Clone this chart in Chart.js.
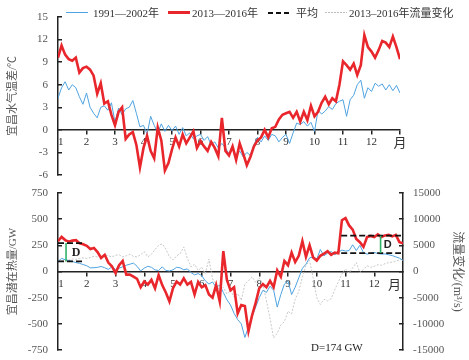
<!DOCTYPE html>
<html>
<head>
<meta charset="utf-8">
<script src="https://cdn.jsdelivr.net/npm/chart.js@4.4.1/dist/chart.umd.min.js"></script>
<style>
html, body { margin: 0; padding: 0; background: #fff; }
#wrap { position: relative; width: 469px; height: 360px; overflow: hidden;
        font-family: "Liberation Serif", "Noto Sans CJK SC", serif; }
#topChart { position: absolute; left: 0; top: 0; }
#bottomChart { position: absolute; left: 0; top: 185px; }
.lg { position: absolute; top: 6px; font-size: 11px; line-height: 14px; color: #333; white-space: nowrap; }
.sw { position: absolute; width: 22px; }
</style>
</head>
<body>
<div id="wrap">
  <canvas id="topChart" width="469" height="185"></canvas>
  <canvas id="bottomChart" width="469" height="175"></canvas>
  <!-- legend -->
  <div class="sw" style="left:66px;top:12px;height:1px;background:#4fa3e0"></div>
  <div class="lg" style="left:93px">1991—2002年</div>
  <div class="sw" style="left:168px;top:11px;height:3px;background:#e8262b"></div>
  <div class="lg" style="left:192px">2013—2016年</div>
  <div class="sw" style="left:268px;top:12px;height:2px;background:repeating-linear-gradient(to right,#111 0 5px,transparent 5px 8px)"></div>
  <div class="lg" style="left:296px">平均</div>
  <div class="sw" style="left:325px;top:12px;height:1px;background:repeating-linear-gradient(to right,#bbb 0 2px,transparent 2px 3px)"></div>
  <div class="lg" style="left:349px">2013–2016年流量变化</div>
</div>
<script>
// values sampled every 1/8 month, starting at month 1
const STEP = 0.125;
const monthTicks = [1, 2, 3, 4, 5, 6, 7, 8, 9, 10, 11, 12];
const FIRST_LABEL_SHIFT = 0.1; // keeps "1" clear of the y axis line

// top: water-air temperature difference (℃)
const tempOld = [4.2, 5.6, 6.4, 5.3, 6.0, 5.6, 4.4, 3.4, 4.9,
  3.0, 2.2, 1.6, 3.0, 3.2, 2.6, 3.6, 1.0,
  2.9, 2.0, 2.8, 3.0, 3.9, 2.2, 0.4, 0.6,
  -0.6, 1.8, 0.6, -0.4, 0.8, -0.2, 0.6, -0.1,
  0.5, -0.6, 0.3, -0.8, -0.4, -1.2, -0.8, -0.6,
  -1.4, -0.9, -2.0, -1.6, -2.4, -1.8, -2.4, -3.2,
  -2.2, -3.6, -2.8, -3.6, -3.0, -3.4, -2.0, -1.0,
  -1.6, -0.8, -1.4, -0.6, -0.8, -1.6, -1.0, -0.6,
  -1.8, -0.4, 0.9, 0.7, 1.1, 0.5, 1.0, -0.2,
  2.6, 2.1, 2.5, 3.1, 2.7, 3.5, 3.8, 4.0,
  1.8, 4.0, 4.6, 6.0, 6.6, 4.2, 5.6, 5.1,
  6.2, 5.8, 6.1, 5.3, 6.0, 5.2, 5.9, 4.9];
const tempNew = [9.6, 11.2, 10.0, 9.4, 9.2, 9.6, 7.6, 8.2, 8.4,
  8.0, 7.2, 4.8, 6.2, 3.5, 3.8, 2.0, 0.6,
  2.4, 3.0, -1.2, -0.6, -0.3, -2.0, -5.0, -2.4,
  -0.8, -2.8, -3.8, 0.3, -1.4, -5.4, -4.4, -2.6,
  -1.0, -2.2, -0.6, -1.8, -1.0, -0.2, -2.4, -1.5,
  -2.2, -2.8, -1.6, -2.4, -3.5, 1.6, -2.8, -3.4,
  -2.2, -4.0, -1.8, -3.2, -4.7, -3.6, -2.2, -1.4,
  -1.0, 0.0, -1.0, 0.2, 0.4, 1.4, 2.0, 2.2,
  2.4, 1.6, 2.4, 1.1, 2.4, 1.3, 3.2, 1.8,
  2.4, 3.6, 4.4, 3.4, 4.2, 3.8, 6.0, 9.1,
  8.6, 8.0, 8.8, 7.3, 8.6, 12.6, 11.0, 10.4,
  9.6, 10.6, 11.8, 11.6, 11.0, 12.4, 11.0, 9.4];

// bottom: potential heat (GW)
const heatOld = [96, 125, 112, 105, 96, 85, 78, 66, 55,
  35, 36, 40, 48, 36, 20, 45, 20,
  32, 45, 60, 70, 80, 50, 5, 32,
  50, 40, 15, 10, 45, 10, 5, 16,
  40, 35, 16, 25, -10, -32, -20, -40,
  -90, -120, -100, -150, -130, -200, -270, -320,
  -400, -460, -500, -630, -530, -430, -340, -250,
  -180, -200, -140, -180, -340, -220, -120, -90,
  -220, -150, -60, 30, 70, 130, 140, 118,
  210, 150, 175, 190, 160, 185, 205, 195,
  200, 255, 200, 250, 180, 166, 175, 182,
  172, 166, 168, 160, 152, 140, 128, 105];
const heatNew = [290, 330, 300, 285, 295, 300, 270, 260, 245,
  215, 225, 185, 130, 160, 85, 50, -15,
  60, 100, -30, -30, -50, -70, -150, -95,
  -125, -80, -160, -35, -130, -200, -285, -160,
  -95, -125, -65, -125, -100, -220, -100, -150,
  -130, -220, -250, -130, -285, 195, -80, -180,
  -150, -400, -320, -330, -570, -420, -300, -160,
  -120, -150, -90, -150, 10, -50, 100, 60,
  180, 90, 150, 290, 140, 250, 134, 105,
  150, 170, 195, 160, 180, 175, 490, 510,
  440, 400, 310, 280, 235, 330, 340, 330,
  355, 330, 345, 350, 335, 350, 280, 270];

// bottom, right axis: flow change 2013-2016 (m³/s)
const flowNew = [2000, 2100, 2000, 2200, 2400, 2300, 2500, 2600, 2500,
  2700, 2900, 2800, 3000, 3200, 3000, 2800, 3100,
  3200, 2800, 3000, 3300, 2900, 2800, 3200, 3800,
  2800, 3300, 4200, 5000, 5300, 4300, 2800, 2200,
  3000, 3400, 4700, 2500, 900, 1400, 200, 800,
  -400, 2400, -1400, -2400, -3600, -3000, -4300, -3600,
  -4900, -4200, -5500, -2400, -1800, -1000, -2100, -1200,
  -2400, -5600, -9000, -12700, -11800, -10200, -9600, -7600,
  -8100, -5300, -3800, -1000, 1200, 2100, -1200, -5000,
  -6300, -5300, -5600, -5200, -3500, -2000, -500, 500,
  -300, 700, 1700, -200, 400, 1100, 800, 1000,
  1300, 1200, 1500, 1700, 1800, 2000, 2200, 2400];

// averages (GW) for January and December, and the D markers
const avgSpans = [[1, 1.9], [10.85, 12.93]];
const avgOld = [96, 176];
const avgNew = [272, 342];
const dMonths = [1.28, 12.22];
const dLabels = [[1.63, 176], [12.47, 252]];
const noteText = 'D=174 GW';
const noteAt = [10.7, -730];

const SERIF = '"Liberation Serif", "Noto Sans CJK SC", serif';
const pts = arr => arr.map((v, i) => ({ x: 1 + i * STEP, y: v }));
const seg = (span, v) => [{ x: span[0], y: v }, { x: span[1], y: v }];

function xAxis(max, endLabel) {
  const tickVals = [monthTicks[0] + FIRST_LABEL_SHIFT].concat(monthTicks.slice(1), [endLabel]);
  return {
    type: 'linear', min: 1, max: max,
    position: { y: 0 },
    afterBuildTicks: s => { s.ticks = tickVals.map(v => ({ value: v })); },
    ticks: {
      padding: 2, color: '#333', maxRotation: 0, autoSkip: false,
      font: c => ({ family: SERIF, size: c.tick && c.tick.value === endLabel ? 13 : 11 }),
      callback: v => v === endLabel ? '月' : Math.floor(v)
    },
    grid: {
      drawOnChartArea: false, tickLength: 4, lineWidth: 1.5,
      tickColor: c => (c.tick && Number.isInteger(c.tick.value)) ? '#222' : 'rgba(0,0,0,0)'
    },
    border: { color: '#222', width: 1.5 }
  };
}

function yAxis(pos, min, max, step, title, width, titlePad, titleSize) {
  return {
    type: 'linear', position: pos, min: min, max: max,
    afterFit: s => { s.width = width; s.paddingTop = 0; s.paddingBottom = 0; },
    ticks: { stepSize: step, padding: 14, color: '#555', font: { family: SERIF, size: 11 },
             callback: v => String(v) },
    grid: { drawOnChartArea: false, tickLength: -4, color: '#222', lineWidth: 1.5 },
    border: { color: '#222', width: 1.5 },
    title: { display: true, text: title, color: '#555', padding: { top: titlePad, bottom: 0 },
             font: { family: SERIF, size: titleSize } }
  };
}

const noPlugins = { legend: { display: false }, tooltip: { enabled: false } };

new Chart(document.getElementById('topChart'), {
  type: 'line',
  data: {
    datasets: [
      { data: pts(tempNew), borderColor: '#e8262b', borderWidth: 2.6, order: 1 },
      { data: pts(tempOld), borderColor: '#4fa3e0', borderWidth: 1, order: 2 }
    ]
  },
  options: {
    responsive: false, animation: false,
    parsing: false,
    elements: { point: { radius: 0 }, line: { tension: 0 } },
    layout: { padding: { top: 17, bottom: 10, left: 0, right: 69 } },
    plugins: noPlugins,
    scales: {
      x: xAxis(13, 13),
      y: yAxis('left', -6, 15, 3, '宜昌水气温差/℃', 58, 7, 11)
    }
  }
});

const notes = {
  id: 'notes',
  afterDatasetsDraw(chart) {
    const { ctx, scales: { x, y } } = chart;
    ctx.save();
    ctx.fillStyle = '#222';
    ctx.textAlign = 'center';
    ctx.textBaseline = 'middle';
    dLabels.forEach(([m, v], i) => {
      ctx.font = i === 0 ? 'bold 12px "Liberation Serif"' : 'bold 11px "Liberation Sans"';
      ctx.fillText('D', x.getPixelForValue(m), y.getPixelForValue(v));
    });
    ctx.font = '11px "Liberation Serif"';
    ctx.fillText(noteText, x.getPixelForValue(noteAt[0]), y.getPixelForValue(noteAt[1]));
    ctx.restore();
  }
};

const avgSets = [];
avgSpans.forEach((span, i) => {
  [avgOld[i], avgNew[i]].forEach(v => avgSets.push({
    data: seg(span, v), borderColor: '#111', borderWidth: 1.8, borderDash: [6, 3], order: 1
  }));
  avgSets.push({
    data: [{ x: dMonths[i], y: avgOld[i] }, { x: dMonths[i], y: avgNew[i] }],
    borderColor: '#2fb36a', borderWidth: 1.6, order: 0
  });
});

new Chart(document.getElementById('bottomChart'), {
  type: 'line',
  data: {
    datasets: [
      { data: pts(heatNew), borderColor: '#e8262b', borderWidth: 2.6, order: 3 },
      { data: pts(heatOld), borderColor: '#4fa3e0', borderWidth: 1, order: 4 },
      { data: pts(flowNew), yAxisID: 'y2', borderColor: '#c8c8c8', borderWidth: 1, borderDash: [2, 1.5], order: 5 }
    ].concat(avgSets)
  },
  options: {
    responsive: false, animation: false,
    parsing: false,
    elements: { point: { radius: 0 }, line: { tension: 0 } },
    layout: { padding: { top: 8, bottom: 10, left: 0, right: 0 } },
    plugins: noPlugins,
    scales: {
      x: xAxis(13, 12.7),
      y: yAxis('left', -750, 750, 250, '宜昌潜在热量/GW', 58, 7, 11),
      y2: yAxis('right', -15000, 15000, 5000, '流量变化/(m³/s)', 66, 5, 12)
    }
  },
  plugins: [notes]
});
</script>
</body>
</html>
